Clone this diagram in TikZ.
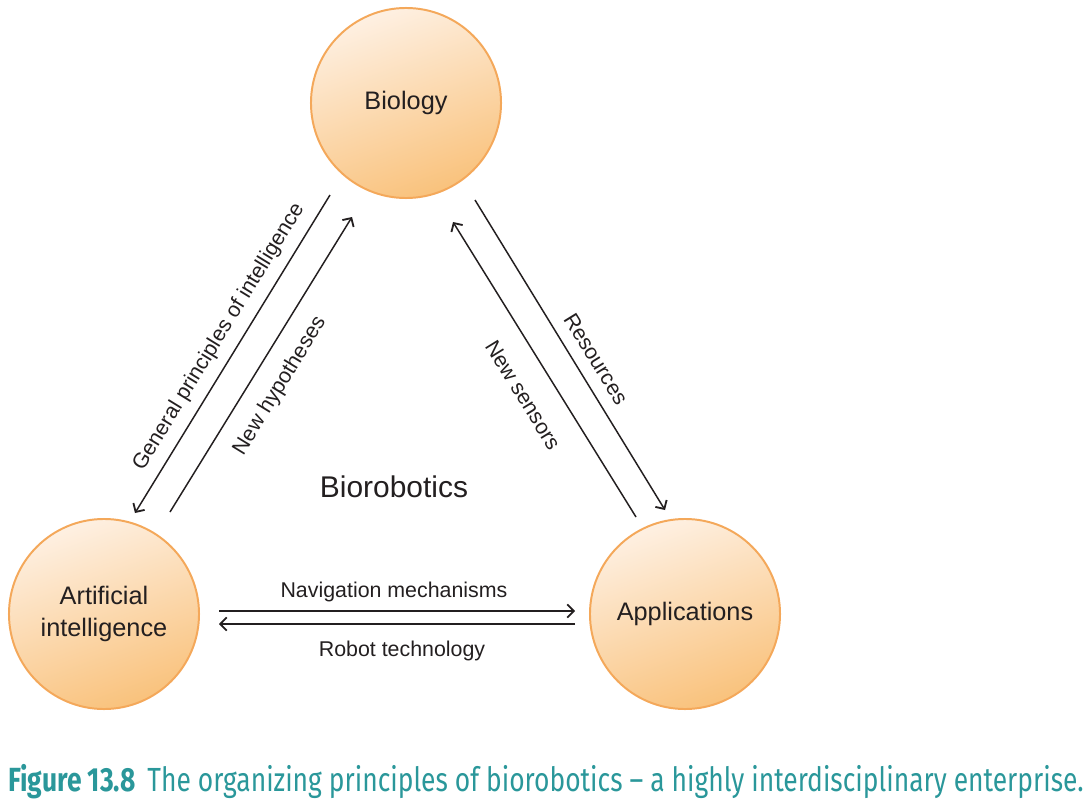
\documentclass[tikz,border=0pt]{standalone}
\usepackage{fontspec}
\setmainfont{Liberation Sans}
\newfontfamily\capfont{Fira Sans}
\usetikzlibrary{positioning,arrows.meta}
\definecolor{ringcol}{HTML}{F4A85A}
\definecolor{lightball}{HTML}{FEF0E2}
\definecolor{darkball}{HTML}{F9C27C}
\definecolor{inkcol}{HTML}{231F20}
\definecolor{capcol}{HTML}{2A979A}
\tikzset{
  topic/.style={circle, draw=ringcol, line width=1.4pt, minimum size=4.75cm,
    top color=lightball, bottom color=darkball, shading angle=20,
    text=inkcol, align=center, font=\fontsize{18}{22.8}\selectfont},
  flow/.style={draw=inkcol, line width=1.05pt,
    -{Straight Barb[length=1.6mm,width=3.3mm,line width=1.3pt]}},
  flowlabel/.style={text=inkcol, inner sep=0pt, font=\fontsize{15.2}{18}\selectfont},
}

\begin{document}
\begin{tikzpicture}[x=0.025cm,y=-0.025cm]
\useasboundingbox (0,0) rectangle (1087,803);
% the three fields
\node[topic] (bio) at (406,103) {Biology};
\node[topic] (ai) at (104,614) {Artificial\\intelligence};
\node[topic] (app) at (685,614) {Applications};
\node[text=inkcol, font=\fontsize{21.3}{26}\selectfont] (centre) at (394,487) {Biorobotics};

% ends of the arrows
\coordinate (bioSW) at (330,195);
\coordinate (aiNE) at (135,513);
\coordinate (aiN) at (170,512);
\coordinate (bioS) at (352,217);
\coordinate (bioSE) at (475,200);
\coordinate (appNW) at (665,510);
\coordinate (appN) at (636,517);
\coordinate (bioS2) at (453,222);
\coordinate (aiE) at (219,611);
\coordinate (appW) at (575,611);
\coordinate (appW2) at (575,624);
\coordinate (aiE2) at (219,624);

\draw[flow] (bioSW) -- (aiNE);
\draw[flow] (aiN) -- (bioS);
\draw[flow] (bioSE) -- (appNW);
\draw[flow] (appN) -- (bioS2);
\draw[flow, line width=1.7pt] (aiE) -- (appW);
\draw[flow, line width=1.7pt] (appW2) -- (aiE2);

% labels of the arrows
\node[flowlabel, rotate=58.5] (genlab) at (219,337) {General principles of intelligence};
\node[flowlabel, rotate=58.5] (hyplab) at (280,386) {New hypotheses};
\node[flowlabel, rotate=-58.3] (reslab) at (596,359) {Resources};
\node[flowlabel, rotate=-58.3] (senlab) at (523,395) {New sensors};
\node[flowlabel] (navlab) at (394,592) {Navigation mechanisms};
\node[flowlabel] (roblab) at (402,651) {Robot technology};

% caption
\node[anchor=base west, inner sep=0pt, text=capcol] (caption) at (8,791)
  {\resizebox{26.875cm}{\height}{\capfont\fontsize{23.8}{28}\selectfont\textbf{Figure 13.8}\hspace{0.45em}The organizing principles of biorobotics – a highly interdisciplinary enterprise.}};
\end{tikzpicture}
\end{document}
